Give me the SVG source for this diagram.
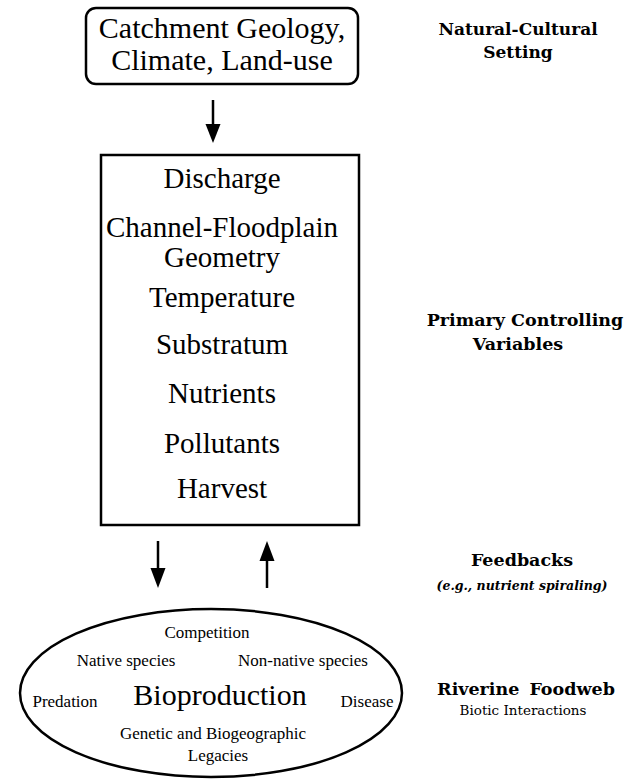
<svg xmlns="http://www.w3.org/2000/svg" width="630" height="780" viewBox="0 0 630 780">
<defs>
<style>
.t{font-family:"Liberation Serif","Times New Roman",serif;fill:#000;text-anchor:middle}
.b{font-family:"DejaVu Serif","Liberation Serif",serif;font-weight:bold;fill:#000;text-anchor:middle}
.r{font-family:"DejaVu Serif","Liberation Serif",serif;fill:#000;text-anchor:middle}
.box{fill:none;stroke:#000;stroke-width:2.5}
.ln{stroke:#000;stroke-width:2.5;fill:none}
.head{fill:#000}
</style>
</defs>
<rect width="630" height="780" fill="#fff"/>

<g id="setting">
<rect class="box" x="86" y="8" width="272" height="76" rx="10"/>
<text class="t" x="222" y="38" font-size="30">Catchment Geology,</text>
<text class="t" x="222" y="70" font-size="30">Climate, Land-use</text>
</g>

<g id="variables">
<rect class="box" x="101" y="155" width="258" height="370"/>
<text class="t" x="222" y="188" font-size="29">Discharge</text>
<text class="t" x="222" y="237" font-size="29">Channel-Floodplain</text>
<text class="t" x="222" y="267" font-size="29">Geometry</text>
<text class="t" x="222" y="307" font-size="29">Temperature</text>
<text class="t" x="222" y="354" font-size="29">Substratum</text>
<text class="t" x="222" y="403" font-size="29">Nutrients</text>
<text class="t" x="222" y="453" font-size="29">Pollutants</text>
<text class="t" x="222" y="498" font-size="29">Harvest</text>
</g>

<g id="foodweb">
<ellipse class="box" cx="211" cy="693" rx="191" ry="84"/>
<text class="t" x="207" y="638" font-size="17">Competition</text>
<text class="t" x="126" y="666" font-size="17">Native species</text>
<text class="t" x="303" y="666" font-size="17">Non-native species</text>
<text class="t" x="65" y="707" font-size="17">Predation</text>
<text class="t" x="220" y="705" font-size="30">Bioproduction</text>
<text class="t" x="367" y="707" font-size="17">Disease</text>
<text class="t" x="213" y="739" font-size="17">Genetic and Biogeographic</text>
<text class="t" x="218" y="761" font-size="17">Legacies</text>
</g>

<g id="connectors">
<line class="ln" x1="213" y1="100" x2="213" y2="126"/>
<path class="head" d="M205.5,124 L220.5,124 L213,143 Z"/>
<line class="ln" x1="158" y1="541" x2="158" y2="570"/>
<path class="head" d="M150.5,568 L165.5,568 L158,588 Z"/>
<line class="ln" x1="267" y1="588" x2="267" y2="559"/>
<path class="head" d="M259.5,561 L274.5,561 L267,541 Z"/>
</g>

<g id="labels">
<text class="b" x="518" y="35" font-size="17">Natural-Cultural</text>
<text class="b" x="518" y="58" font-size="17">Setting</text>
<text class="b" x="525" y="326" font-size="17.5">Primary Controlling</text>
<text class="b" x="518" y="350" font-size="17.5">Variables</text>
<text class="b" x="522" y="566" font-size="17.5">Feedbacks</text>
<text class="b" x="522" y="590" font-size="12.5" font-style="italic">(e.g., nutrient spiraling)</text>
<text class="b" x="526" y="695" font-size="17.5" word-spacing="4">Riverine Foodweb</text>
<text class="r" x="523" y="715" font-size="13.5">Biotic Interactions</text>
</g>
</svg>
